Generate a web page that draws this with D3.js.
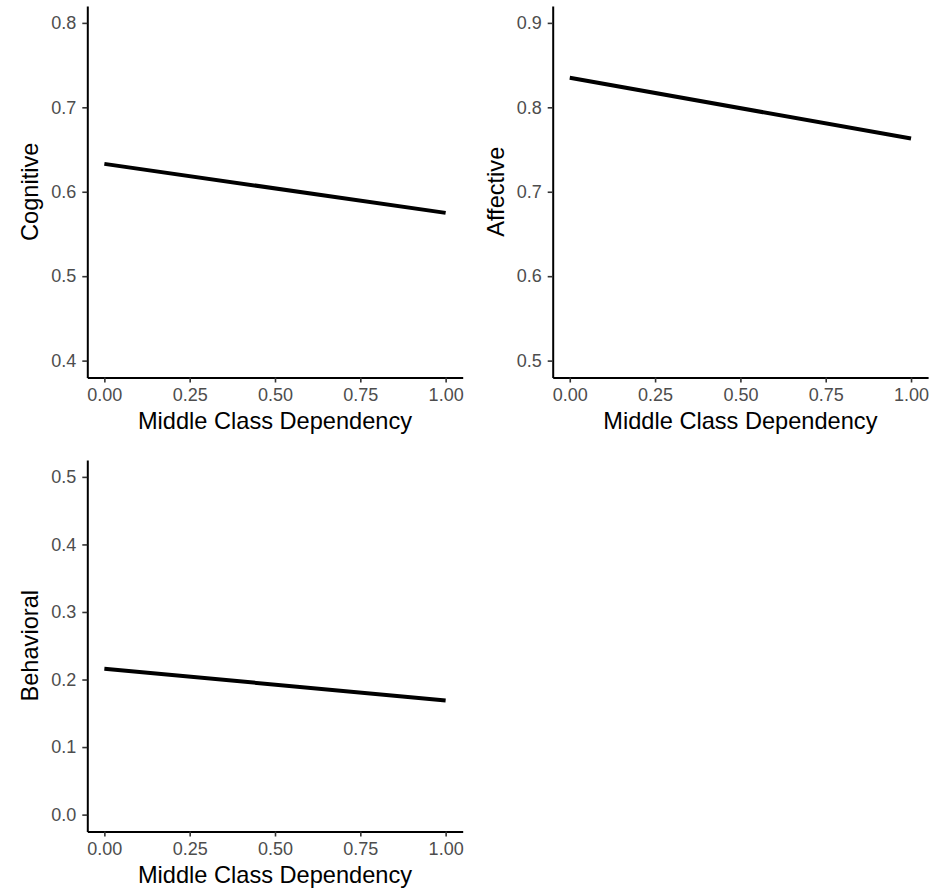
<!DOCTYPE html>
<html>
<head>
<meta charset="utf-8">
<script src="https://cdn.jsdelivr.net/npm/d3@7"></script>
<style>
  body { margin: 0; background: #fff; }
  svg { display: block; font-family: "Liberation Sans", Arial, sans-serif; }
</style>
</head>
<body>
<svg width="936" height="891"></svg>
<script>
const svg = d3.select("svg");

// data
const xValues = [0, 1];
const cognitive = [0.633, 0.575];
const affective = [0.835, 0.763];
const behavioral = [0.216, 0.169];

const xTicks = [0, 0.25, 0.5, 0.75, 1];
const cognitiveTicks = [0.4, 0.5, 0.6, 0.7, 0.8];
const affectiveTicks = [0.5, 0.6, 0.7, 0.8, 0.9];
const behavioralTicks = [0, 0.1, 0.2, 0.3, 0.4, 0.5];

const xLabel = "Middle Class Dependency";

const panels = [
  { name: "Cognitive", values: cognitive, ticks: cognitiveTicks, left: 87.3, top: 6, titleX: 30 },
  { name: "Affective", values: affective, ticks: affectiveTicks, left: 552.7, top: 6, titleX: 496 },
  { name: "Behavioral", values: behavioral, ticks: behavioralTicks, left: 87.3, top: 460, titleX: 30 }
];

const panelW = 375.4;
const panelH = 371.5;

// ggplot-style 5% expansion
function expand(lo, hi) {
  const pad = (hi - lo) * 0.05;
  return [lo - pad, hi + pad];
}

panels.forEach((p) => {
  const g = svg.append("g").attr("transform", `translate(${p.left},${p.top})`);

  const x = d3.scaleLinear().domain(expand(0, 1)).range([0, panelW]);
  const y = d3
    .scaleLinear()
    .domain(expand(p.ticks[0], p.ticks[p.ticks.length - 1]))
    .range([panelH, 0]);

  const xAxis = g
    .append("g")
    .attr("transform", `translate(0,${panelH})`)
    .call(
      d3.axisBottom(x).tickValues(xTicks).tickFormat(d3.format(".2f"))
        .tickSizeInner(5).tickSizeOuter(0).tickPadding(6)
    );

  const yAxis = g
    .append("g")
    .call(
      d3.axisLeft(y).tickValues(p.ticks).tickFormat(d3.format(".1f"))
        .tickSizeInner(5).tickSizeOuter(0).tickPadding(6)
    );

  [xAxis, yAxis].forEach((a) => {
    a.select(".domain").attr("stroke", "#000").attr("stroke-width", 2);
    a.selectAll(".tick line").attr("stroke", "#333").attr("stroke-width", 1.6);
    a.selectAll(".tick text")
      .attr("fill", "#4d4d4d")
      .style("font-size", "18px")
      .style("font-family", "'Liberation Sans', Arial, sans-serif");
  });
  xAxis.selectAll(".tick text").attr("dy", "0.72em");

  const line = d3
    .line()
    .x((d, i) => x(xValues[i]))
    .y((d) => y(d));

  g.append("path")
    .datum(p.values)
    .attr("d", line)
    .attr("fill", "none")
    .attr("stroke", "#000")
    .attr("stroke-width", 4);

  // x title
  g.append("text")
    .attr("x", panelW / 2)
    .attr("y", panelH + 51.5)
    .attr("text-anchor", "middle")
    .style("font-size", "23.6px")
    .attr("fill", "#000")
    .text(xLabel);

  // y title
  svg.append("text")
    .attr("transform", `translate(${p.titleX + 8},${p.top + panelH / 2}) rotate(-90)`)
    .attr("text-anchor", "middle")
    .style("font-size", "23.6px")
    .attr("fill", "#000")
    .text(p.name);
});
</script>
</body>
</html>
